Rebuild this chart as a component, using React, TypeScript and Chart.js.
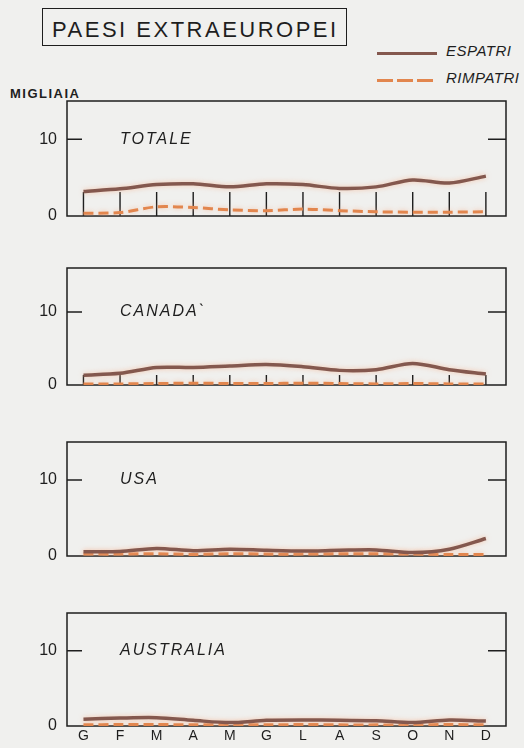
import React, { useEffect, useRef } from 'react';
import { Chart, registerables } from 'chart.js';

Chart.register(...registerables);

// ---------- DATA ----------
const MONTHS = ['G', 'F', 'M', 'A', 'M', 'G', 'L', 'A', 'S', 'O', 'N', 'D'];
const Y_TICKS = [0, 10];
const SERIES_NAMES = ['ESPATRI', 'RIMPATRI'];
const PANEL_NAMES = ['TOTALE', 'CANADA`', 'USA', 'AUSTRALIA'];

const TOTALE_ESPATRI = [3.2, 3.55, 4.1, 4.2, 3.8, 4.2, 4.1, 3.6, 3.8, 4.7, 4.3, 5.2];
const TOTALE_RIMPATRI = [0.35, 0.45, 1.2, 1.1, 0.8, 0.7, 0.9, 0.7, 0.55, 0.5, 0.5, 0.55];

const CANADA_ESPATRI = [1.35, 1.6, 2.4, 2.4, 2.6, 2.8, 2.5, 2.0, 2.1, 2.95, 2.1, 1.5];
const CANADA_RIMPATRI = [0.15, 0.15, 0.2, 0.25, 0.2, 0.2, 0.25, 0.2, 0.15, 0.2, 0.15, 0.15];

const USA_ESPATRI = [0.57, 0.6, 1.0, 0.7, 0.9, 0.75, 0.65, 0.75, 0.8, 0.45, 0.9, 2.3];
const USA_RIMPATRI = [0.25, 0.25, 0.3, 0.2, 0.3, 0.25, 0.25, 0.3, 0.3, 0.25, 0.2, 0.2];

const AUSTRALIA_ESPATRI = [0.9, 1.05, 1.1, 0.75, 0.45, 0.75, 0.8, 0.75, 0.7, 0.45, 0.8, 0.65];
const AUSTRALIA_RIMPATRI = [0.15, 0.2, 0.2, 0.15, 0.2, 0.15, 0.2, 0.15, 0.15, 0.15, 0.2, 0.15];

const PANEL_ESPATRI = [TOTALE_ESPATRI, CANADA_ESPATRI, USA_ESPATRI, AUSTRALIA_ESPATRI];
const PANEL_RIMPATRI = [TOTALE_RIMPATRI, CANADA_RIMPATRI, USA_RIMPATRI, AUSTRALIA_RIMPATRI];

// ---------- STYLE / LAYOUT ----------
const FONT = '"Liberation Sans", Arial, sans-serif';
const INK = '#1e1e1e';
const BROWN = 'rgb(132, 88, 78)';
const ORANGE = 'rgb(226, 134, 78)';
const BG = '#f0f0ee';

const PANEL_LAYOUT = [
  { top: 101, bottom: 216, yMax: 15, tickLen: 24 },
  { top: 268, bottom: 385, yMax: 16, tickLen: 10 },
  { top: 442, bottom: 556, yMax: 15, tickLen: 0 },
  { top: 613, bottom: 726, yMax: 15, tickLen: 0 },
];

const framePlugin = {
  id: 'frame',
  beforeDatasetsDraw(chart: any) {
    const { ctx, chartArea: a, scales } = chart;
    const opts = chart.options.plugins.frame || {};
    const xs = scales.x;
    const ys = scales.y;
    ctx.save();
    ctx.strokeStyle = INK;
    ctx.lineWidth = 1.5;
    ctx.strokeRect(a.left, a.top, a.right - a.left, a.bottom - a.top);
    const y10 = ys.getPixelForValue(10);
    ctx.beginPath();
    ctx.moveTo(a.left, y10);
    ctx.lineTo(a.left + 15, y10);
    ctx.moveTo(a.right - 18, y10);
    ctx.lineTo(a.right, y10);
    ctx.stroke();
    if (opts.tickLen > 0) {
      ctx.lineWidth = 1.4;
      ctx.beginPath();
      MONTHS.forEach((_, i) => {
        const px = xs.getPixelForValue(i);
        ctx.moveTo(px, a.bottom);
        ctx.lineTo(px, a.bottom - opts.tickLen);
      });
      ctx.stroke();
    }
    ctx.fillStyle = INK;
    ctx.font = `italic 16px ${FONT}`;
    (ctx as any).letterSpacing = '2px';
    ctx.textBaseline = 'middle';
    ctx.textAlign = 'left';
    ctx.fillText(opts.name, a.left + 53, y10);
    ctx.restore();
    ctx.save();
    ctx.shadowColor = 'rgba(246, 170, 130, 0.6)';
    ctx.shadowBlur = 5;
  },
  afterDatasetsDraw(chart: any) {
    chart.ctx.restore();
  },
};

function Panel({ index }: { index: number }) {
  const ref = useRef<HTMLCanvasElement>(null);
  const lay = PANEL_LAYOUT[index];
  const showMonths = index === PANEL_LAYOUT.length - 1;
  const canvasTop = lay.top - 10;
  const height = showMonths ? 748 - canvasTop : lay.bottom - lay.top + 20;

  useEffect(() => {
    const toPts = (arr: number[]) => arr.map((y, i) => ({ x: i, y }));
    const chart = new Chart(ref.current as HTMLCanvasElement, {
      type: 'line',
      data: {
        datasets: [
          {
            label: SERIES_NAMES[1],
            data: toPts(PANEL_RIMPATRI[index]),
            borderColor: ORANGE,
            borderWidth: 3,
            borderDash: [10, 5],
            pointRadius: 0,
            tension: 0.3,
            order: 2,
          },
          {
            label: SERIES_NAMES[0],
            data: toPts(PANEL_ESPATRI[index]),
            borderColor: BROWN,
            borderWidth: 3.5,
            pointRadius: 0,
            tension: 0.3,
            order: 1,
          },
        ],
      },
      options: {
        animation: false,
        responsive: false,
        maintainAspectRatio: false,
        layout: { padding: { left: 0, right: 18, top: 10, bottom: showMonths ? 0 : 10 } },
        plugins: {
          legend: { display: false },
          tooltip: { enabled: false },
          frame: { name: PANEL_NAMES[index], tickLen: lay.tickLen },
        } as any,
        scales: {
          x: {
            type: 'linear',
            min: -0.45,
            max: 11.55,
            display: showMonths,
            grid: { display: false, drawTicks: false },
            border: { display: false },
            afterBuildTicks: (s: any) => {
              s.ticks = MONTHS.map((_, i) => ({ value: i }));
            },
            afterFit: (s: any) => {
              s.height = showMonths ? 22 : 0;
              s.paddingLeft = 0;
              s.paddingRight = 0;
            },
            ticks: {
              autoSkip: false,
              maxRotation: 0,
              padding: 3,
              color: INK,
              font: { size: 14, family: FONT, lineHeight: 1 },
              callback: (v: any) => MONTHS[Math.round(Number(v))],
            },
          },
          y: {
            min: 0,
            max: lay.yMax,
            grid: { display: false, drawTicks: false },
            border: { display: false },
            afterBuildTicks: (s: any) => {
              s.ticks = Y_TICKS.map((v) => ({ value: v }));
            },
            afterFit: (s: any) => {
              s.width = 67;
              s.paddingTop = 0;
              s.paddingBottom = 0;
            },
            ticks: {
              padding: 10,
              color: INK,
              font: { size: 16, family: FONT },
              callback: (v: any) => String(v),
            },
          },
        },
      },
      plugins: [framePlugin],
    } as any);
    return () => chart.destroy();
  }, [index]);

  return (
    <canvas
      ref={ref}
      width={524}
      height={height}
      style={{ position: 'absolute', left: 0, top: canvasTop, width: 524, height }}
    />
  );
}

export default function App() {
  const textStyle = (left: number, top: number, size: number, extra: any = {}) => ({
    position: 'absolute' as const,
    left,
    top,
    fontSize: size,
    lineHeight: `${size}px`,
    color: INK,
    whiteSpace: 'nowrap' as const,
    ...extra,
  });
  return (
    <div
      style={{
        position: 'absolute',
        left: 0,
        top: 0,
        width: 524,
        height: 748,
        background: BG,
        fontFamily: FONT,
        overflow: 'hidden',
      }}
    >
      <div
        style={{
          position: 'absolute',
          left: 42,
          top: 8,
          width: 305,
          height: 38,
          boxSizing: 'border-box',
          border: `1.5px solid ${INK}`,
        }}
      />
      <div style={textStyle(52, 19.3, 22, { letterSpacing: '2.5px' })}>PAESI EXTRAEUROPEI</div>

      <div style={{ position: 'absolute', left: 377, top: 51.5, width: 60, height: 3.5, background: BROWN }} />
      <div
        style={{
          position: 'absolute',
          left: 377,
          top: 79,
          width: 60,
          height: 3,
          background: `repeating-linear-gradient(90deg, ${ORANGE} 0 16px, transparent 16px 20px)`,
        }}
      />
      <div style={textStyle(446, 42.7, 15, { fontStyle: 'italic', letterSpacing: '0.5px' })}>{SERIES_NAMES[0]}</div>
      <div style={textStyle(446, 69.7, 15, { fontStyle: 'italic', letterSpacing: '0.5px' })}>{SERIES_NAMES[1]}</div>

      <div style={textStyle(10, 86.6, 13, { fontWeight: 'bold', letterSpacing: '1.5px' })}>MIGLIAIA</div>

      {PANEL_LAYOUT.map((_, i) => (
        <Panel key={i} index={i} />
      ))}
    </div>
  );
}
